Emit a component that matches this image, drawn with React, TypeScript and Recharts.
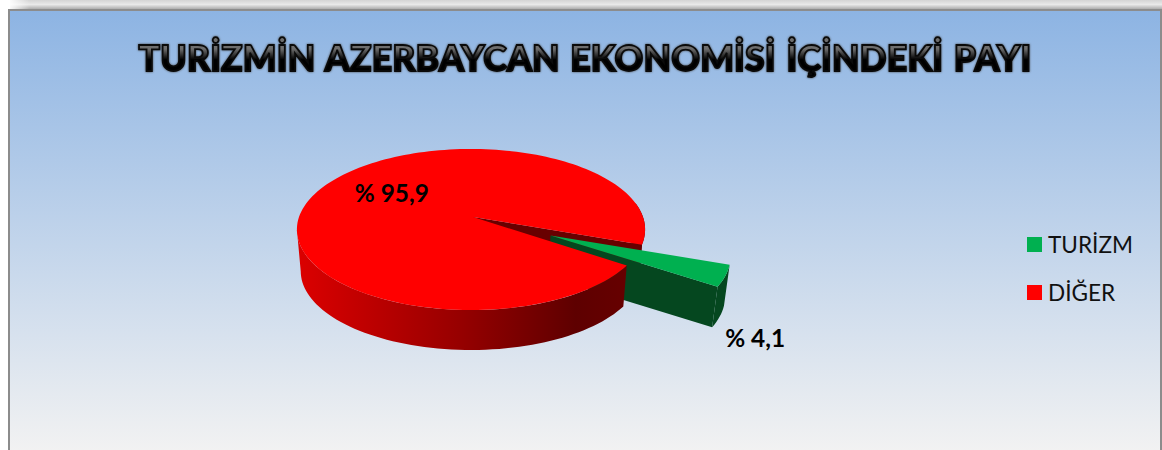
import { PieChart, Pie, Legend } from "recharts";

const names = ["TURİZM", "DİĞER"];
const shares = [4.1, 95.9];
const shareLabels = ["% 4,1", "% 95,9"];
const colors: Record<string, string> = { TURİZM: "#00b050", DİĞER: "#ff0000" };

const rows = names.map((name, i) => ({ name, value: shares[i] }));

const FONT = "Lato, 'Open Sans', sans-serif";
const RAD = Math.PI / 180;

// fake 3d: tilted disc with a bit of perspective, the bottom face is a smaller copy pushed down
const TILT = 0.457;
const PERSP = 0.155;
const DEPTH = 42;
const BOTTOM_SCALE = 0.978;
const EXPLODE = 0.5;
const GREEN_SIZE = 0.985;
const APEX_SHIFT = 2;
const WALL_END = -171; // left silhouette of the tilted disc

type Pt = [number, number];

function project(cx: number, cy: number, r: number, u: number, v: number, bottom: boolean): Pt {
  const w = 1 - PERSP * v;
  const s = bottom ? BOTTOM_SCALE : 1;
  return [cx + (s * r * u) / w, cy + (bottom ? DEPTH : 0) + (s * r * TILT * v) / w];
}

function dir(a: number): Pt {
  return [Math.cos(-a * RAD), Math.sin(-a * RAD)];
}

function arc(cx: number, cy: number, r: number, from: number, to: number, off: Pt, bottom: boolean, k = 1): Pt[] {
  const n = Math.max(2, Math.ceil(Math.abs(to - from) / 2));
  const out: Pt[] = [];
  for (let i = 0; i <= n; i++) {
    const [u, v] = dir(from + ((to - from) * i) / n);
    out.push(project(cx, cy, r, u * k + off[0], v * k + off[1], bottom));
  }
  return out;
}

function toPath(pts: Pt[]) {
  return "M" + pts.map((p) => p[0].toFixed(2) + "," + p[1].toFixed(2)).join("L") + "Z";
}

function makeShape(layer: "back" | "green" | "front") {
  return function SectorShape(props: any) {
    const { cx, cy, outerRadius: r, startAngle, endAngle, name } = props;
    const color = colors[name] ?? colors[props.payload?.name];
    const isGreen = color === colors["TURİZM"];
    const mid = (startAngle + endAngle) / 2;
    const off: Pt = isGreen ? [dir(mid)[0] * EXPLODE, dir(mid)[1] * EXPLODE] : [0, 0];
    const centerTop = project(cx, cy, r, off[0], off[1], false);
    const centerBottom = project(cx, cy, r, off[0], off[1], true);

    if (isGreen) {
      if (layer !== "green") return <g />;
      const top = arc(cx, cy, r, startAngle, endAngle, off, false, GREEN_SIZE);
      const bot = arc(cx, cy, r, startAngle, endAngle, off, true, GREEN_SIZE);
      const last = top[top.length - 1];
      const lastBot = bot[bot.length - 1];
      return (
        <g>
          <path d={toPath([centerTop, last, lastBot, centerBottom])} fill="#05471f" />
          <path d={toPath([...top, ...bot.slice().reverse()])} fill="#05471f" />
          <path d={toPath([centerTop, ...top])} fill={color} />
        </g>
      );
    }

    if (layer === "green") return <g />;
    const top = arc(cx, cy, r, startAngle, endAngle, off, false);
    const apex: Pt = [centerTop[0] + APEX_SHIFT, centerTop[1]];
    if (layer === "back") {
      // wall of the notch and the outer wall, green wedge goes over these
      const farTop = project(cx, cy, r, ...dir(endAngle), false);
      const farBot = project(cx, cy, r, ...dir(endAngle), true);
      const wallT = arc(cx, cy, r, endAngle + 30, endAngle, off, false);
      const wallB = arc(cx, cy, r, endAngle + 30, endAngle, off, true);
      return (
        <g>
          <path d={toPath([...wallT, ...wallB.slice().reverse()])} fill="#5c0000" />
          <path d={toPath([apex, farTop, farBot, centerBottom])} fill="#680000" />
        </g>
      );
    }
    const wallT = arc(cx, cy, r, startAngle, WALL_END, off, false);
    const wallB = arc(cx, cy, r, startAngle, WALL_END, off, true);
    return (
      <g>
        <path d={toPath([...wallT, ...wallB.slice().reverse()])} fill="url(#redWall)" />
        <path d={toPath([apex, ...top])} fill={color} />
      </g>
    );
  };
}

function renderLabel(props: any) {
  const { cx, cy, outerRadius: r, midAngle, index } = props;
  const [u, v] = dir(midAngle);
  let p: Pt;
  if (index === 0) {
    const q = project(cx, cy, r, u * (1 + EXPLODE), v * (1 + EXPLODE), false);
    p = [q[0] + 27, q[1] + 61];
  } else {
    const q = project(cx, cy, r, u * 0.55, v * 0.55, false);
    p = [q[0] + 2, q[1] - 6];
  }
  return (
    <text
      x={p[0]}
      y={p[1]}
      textAnchor="middle"
      dominantBaseline="central"
      fontFamily={FONT}
      fontWeight={700}
      fontSize={24.4}
      fill="#000"
    >
      {shareLabels[index]}
    </text>
  );
}

function LegendBox() {
  return (
    <div style={{ fontFamily: FONT, fontSize: 22.6, color: "#111" }}>
      {names.map((n) => (
        <div key={n} style={{ display: "flex", alignItems: "center", height: 48 }}>
          <span style={{ width: 15, height: 15, background: colors[n], marginRight: 6 }} />
          {n}
        </div>
      ))}
    </div>
  );
}

const pieProps = {
  data: rows,
  dataKey: "value",
  nameKey: "name",
  cx: 471,
  cy: 217,
  innerRadius: 0,
  outerRadius: 172,
  startAngle: -19.5,
  endAngle: -379.5,
  stroke: "none",
  labelLine: false,
  isAnimationActive: false,
};

export default function App() {
  return (
    <div
      style={{
        position: "absolute",
        left: 0,
        top: 0,
        width: 1162,
        height: 450,
        overflow: "hidden",
        background: "#fff",
      }}
    >
      <div
        style={{
          position: "absolute",
          left: 10,
          right: 0,
          top: 0,
          height: 10,
          background: "linear-gradient(#d4d4d4, #e9e9e9 45%, #a0a0a0)",
        }}
      />
      <div
        style={{
          position: "absolute",
          left: 8,
          top: 0,
          width: 22,
          height: 9,
          background: "linear-gradient(to right, #fff, rgba(255,255,255,0))",
        }}
      />
      <div
        style={{
          position: "absolute",
          left: 8,
          top: 9,
          width: 1150,
          height: 441,
          borderLeft: "2px solid #8c8c8c",
          borderTop: "2px solid #8c8c8c",
          borderRight: "2px solid #8c8c8c",
          background: "linear-gradient(#8db4e3, #f2f2f2)",
        }}
      />
      <div style={{ position: "absolute", left: 0, top: 0 }}>
        <PieChart width={1162} height={450} margin={{ top: 0, right: 0, bottom: 0, left: 0 }}>
          <defs>
            <linearGradient id="redWall" gradientUnits="userSpaceOnUse" x1="297" y1="0" x2="625" y2="0">
              <stop offset="0%" stopColor="#dc0000" />
              <stop offset="50%" stopColor="#960000" />
              <stop offset="85%" stopColor="#5e0000" />
              <stop offset="100%" stopColor="#660000" />
            </linearGradient>
            <linearGradient id="titleFill" x1="0" y1="0" x2="0" y2="1">
              <stop offset="30%" stopColor="#6e6e6e" />
              <stop offset="55%" stopColor="#000" />
            </linearGradient>
          </defs>
          <text
            x={585}
            y={71}
            textAnchor="middle"
            fontFamily={FONT}
            fontWeight={900}
            fontSize={35.5}
            wordSpacing={2}
            letterSpacing={0.2}
            fill="url(#titleFill)"
            stroke="#0a0a0a"
            strokeWidth={1.8}
            style={{ filter: "drop-shadow(0 0 1px #444)" }}
          >
            TURİZMİN AZERBAYCAN EKONOMİSİ İÇİNDEKİ PAYI
          </text>
          <Pie {...pieProps} legendType="none" shape={makeShape("back")} />
          <Pie {...pieProps} legendType="none" shape={makeShape("green")} />
          <Pie {...pieProps} shape={makeShape("front")} label={renderLabel} />
          <Legend
            layout="vertical"
            align="right"
            verticalAlign="top"
            content={<LegendBox />}
            wrapperStyle={{ left: 1027, top: 220, width: 130 }}
          />
        </PieChart>
      </div>
    </div>
  );
}
